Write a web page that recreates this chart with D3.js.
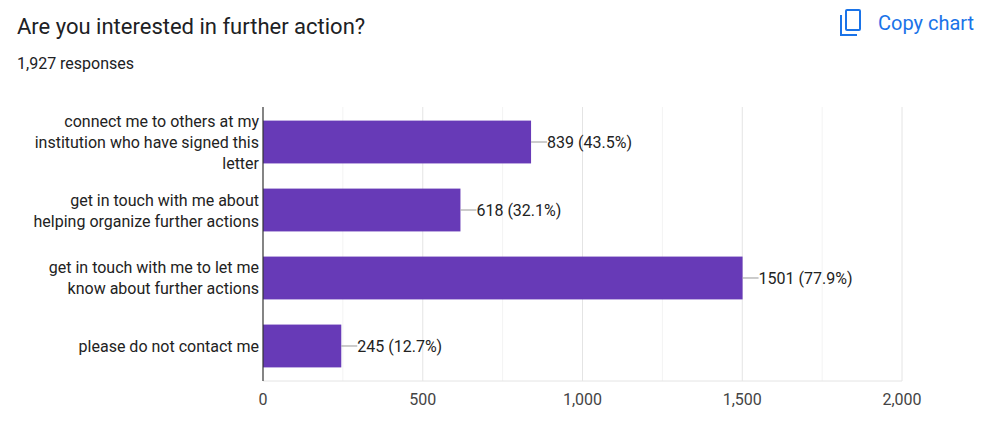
<!DOCTYPE html>
<html><head><meta charset="utf-8">
<script src="https://cdn.jsdelivr.net/npm/d3@7"></script>
<style>body{margin:0;background:#fff;font-family:Roboto,Arial,sans-serif;}</style>
</head><body>
<div id="chart"></div>
<script>
var categories = [
  ["connect me to others at my", "institution who have signed this", "letter"],
  ["get in touch with me about", "helping organize further actions"],
  ["get in touch with me to let me", "know about further actions"],
  ["please do not contact me"]
];
var counts = [839, 618, 1501, 245];
var percents = ["43.5%", "32.1%", "77.9%", "12.7%"];
var majorTicks = [0, 500, 1000, 1500, 2000];
var minorTicks = [250, 750, 1250, 1750];

var W = 1000, H = 429;
var svg = d3.select("#chart").append("svg").attr("width", W).attr("height", H);

svg.append("text").attr("x", 17).attr("y", 34).attr("font-size", 22)
  .attr("fill", "#202124").text("Are you interested in further action?");
svg.append("text").attr("x", 17).attr("y", 69).attr("font-size", 16)
  .attr("fill", "#202124").text("1,927 responses");

// copy chart icon
var ic = svg.append("g").attr("fill", "none").attr("stroke", "#1a73e8").attr("stroke-width", 2);
ic.append("path").attr("d", "M841,15 V35 H857");
ic.append("rect").attr("x", 846).attr("y", 10).attr("width", 14).attr("height", 20).attr("rx", 1);
svg.append("text").attr("x", 878).attr("y", 30).attr("font-size", 20)
  .attr("fill", "#1a73e8").text("Copy chart");

var x = d3.scaleLinear().domain([0, 2000]).range([263, 902]);
var y = d3.scaleBand().domain(d3.range(counts.length)).range([107, 381]).paddingInner(0.37).paddingOuter(0.2);

svg.selectAll(".minor").data(minorTicks).enter().append("line")
  .attr("x1", x).attr("x2", x).attr("y1", 107).attr("y2", 381).attr("stroke", "#f3f3f3");
svg.selectAll(".major").data(majorTicks.slice(1)).enter().append("line")
  .attr("x1", x).attr("x2", x).attr("y1", 107).attr("y2", 381).attr("stroke", "#e4e4e4");
svg.append("line").attr("x1", 263).attr("x2", 902).attr("y1", 381).attr("y2", 381).attr("stroke", "#e4e4e4");

svg.selectAll(".bar").data(counts).enter().append("rect")
  .attr("x", x(0)).attr("y", function(d, i) { return y(i); })
  .attr("width", function(d) { return x(d) - x(0); }).attr("height", y.bandwidth())
  .attr("fill", "#673ab7");

svg.append("line").attr("x1", 263).attr("x2", 263).attr("y1", 107).attr("y2", 381)
  .attr("stroke", "#333").attr("stroke-width", 1.2);

counts.forEach(function(d, i) {
  var cy = y(i) + y.bandwidth() / 2;
  svg.append("line").attr("x1", x(d)).attr("x2", x(d) + 16).attr("y1", cy).attr("y2", cy)
    .attr("stroke", "#999");
  svg.append("text").attr("x", x(d) + 16).attr("y", cy + 6).attr("font-size", 16)
    .attr("fill", "#222").text(d + " (" + percents[i] + ")");
  var lines = categories[i];
  lines.forEach(function(l, j) {
    svg.append("text").attr("x", 259).attr("text-anchor", "end")
      .attr("y", cy + 6 + (j - (lines.length - 1) / 2) * 21)
      .attr("font-size", 16).attr("fill", "#222").text(l);
  });
});

svg.selectAll(".tick").data(majorTicks).enter().append("text")
  .attr("x", x).attr("y", 405).attr("text-anchor", "middle").attr("font-size", 16)
  .attr("fill", "#444").text(d3.format(","));
</script>
</body></html>
